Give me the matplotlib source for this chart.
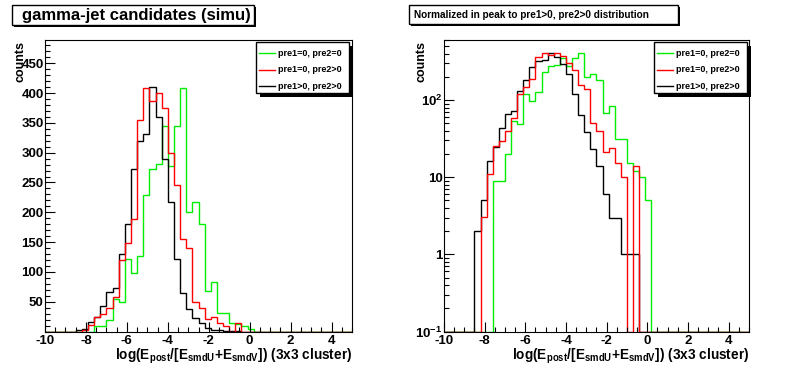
import numpy as np
import matplotlib
matplotlib.use("Agg")
import matplotlib.pyplot as plt
from matplotlib.patches import Rectangle
from matplotlib.lines import Line2D
from matplotlib.ticker import MultipleLocator, FixedLocator, FixedFormatter, LogLocator, NullFormatter

plt.rcParams['font.family'] = ['Liberation Sans', 'DejaVu Sans']
plt.rcParams['mathtext.fontset'] = 'custom'
plt.rcParams['mathtext.rm'] = 'Liberation Sans:bold'
plt.rcParams['mathtext.bf'] = 'Liberation Sans:bold'
plt.rcParams['mathtext.default'] = 'rm'
plt.rcParams['axes.unicode_minus'] = False

# 50 bins from -10 to 5
edges = np.linspace(-10, 5, 51)

# pre1>0, pre2>0
black = [0, 0, 0, 0, 0, 2, 5, 16, 25, 43,
         66, 73, 130, 180, 272, 320, 332, 410, 360, 290,
         218, 121, 64, 38, 23, 14, 6, 3, 3, 1,
         1, 1, 0, 0, 0, 0, 0, 0, 0, 0,
         0, 0, 0, 0, 0, 0, 0, 0, 0, 0]
# pre1=0, pre2>0
red = [0, 0, 0, 0, 0, 0, 3, 11, 25, 29,
       40, 58, 120, 148, 188, 355, 408, 386, 400, 375,
       300, 245, 155, 140, 50, 39, 21, 24, 15, 10,
       0, 14, 0, 0, 0, 0, 0, 0, 0, 0,
       0, 0, 0, 0, 0, 0, 0, 0, 0, 0]
# pre1=0, pre2=0
green = [0, 0, 0, 0, 0, 0, 0, 0, 9, 9,
         20, 54, 49, 121, 98, 126, 229, 272, 281, 345,
         278, 345, 408, 200, 218, 180, 68, 83, 31, 31,
         15, 12, 10, 5, 0, 0, 0, 0, 0, 0,
         0, 0, 0, 0, 0, 0, 0, 0, 0, 0]

labels = ['pre1=0, pre2=0', 'pre1=0, pre2>0', 'pre1>0, pre2>0']
colors = ['#00ee00', '#ff0000', '#000000']

W, H = 796, 372
fig = plt.figure(figsize=(W / 100, H / 100), dpi=100)


def fx(px):
    return px / W


def fy(py):
    return 1 - py / H


def box(x0, y0, x1, y1, shadow):
    fig.patches.append(Rectangle((fx(x0 + shadow), fy(y1 + shadow)), fx(x1 - x0), (y1 - y0) / H,
                                 transform=fig.transFigure, facecolor='black', edgecolor='black', lw=0))
    fig.patches.append(Rectangle((fx(x0), fy(y1)), fx(x1 - x0), (y1 - y0) / H,
                                 transform=fig.transFigure, facecolor='white', edgecolor='black', lw=1.0))


def legend(x0, y0, x1, y1):
    box(x0, y0, x1, y1, 4)
    for i, (lab, c) in enumerate(zip(labels, colors)):
        yy = y0 + 11 + i * 16.7
        fig.lines.append(Line2D([fx(x0 + 3), fx(x0 + 19)], [fy(yy), fy(yy)], color=c, lw=1.0,
                                transform=fig.transFigure))
        fig.text(fx(x0 + 22), fy(yy), lab, fontsize=6.5, fontweight='bold', va='center', ha='left')


def style(ax):
    ax.set_xlim(-10, 5)
    ax.xaxis.set_major_locator(MultipleLocator(2))
    ax.xaxis.set_minor_locator(MultipleLocator(0.5))
    ax.tick_params(which='both', direction='in', top=False, right=False, labelsize=9.5, width=0.8)
    ax.tick_params(which='major', length=7)
    ax.tick_params(which='minor', length=3.5)
    ax.tick_params(axis='x', pad=2.5)
    ax.tick_params(axis='y', pad=1)
    for t in ax.get_xticklabels() + ax.get_yticklabels():
        t.set_fontweight('bold')
    for s in ax.spines.values():
        s.set_linewidth(0.8)
    ax.set_xlabel(r'log(E$_{\rm post}$/[E$_{\rm smdU}$+E$_{\rm smdV}$]) (3x3 cluster)',
                  fontsize=9.8, fontweight='bold', loc='right', labelpad=0)


# left: linear
ax1 = fig.add_axes([fx(45), fy(331.5), (352 - 45) / W, (331.5 - 40) / H])
for vals, c in zip([green, black, red], [colors[0], colors[2], colors[1]]):
    ax1.stairs(vals, edges, color=c, lw=1.0, baseline=None)
ax1.set_ylim(0, 489)
ax1.yaxis.set_major_locator(FixedLocator([50, 100, 150, 200, 250, 300, 350, 400, 450]))
ax1.yaxis.set_minor_locator(MultipleLocator(10))
style(ax1)

# right: log, normalised to black peak
ax2 = fig.add_axes([fx(444), fy(331.5), (749 - 444) / W, (331.5 - 40) / H])
bmax = max(black)
for vals, c in zip([green, black, red], [colors[0], colors[2], colors[1]]):
    v = np.array(vals, dtype=float) * bmax / max(vals)
    v[v <= 0] = 0.1
    ax2.stairs(v, edges, color=c, lw=1.0, baseline=None)
ax2.set_yscale('log')
ax2.set_ylim(0.1, 601)
ax2.yaxis.set_major_locator(FixedLocator([0.1, 1, 10, 100]))
ax2.yaxis.set_major_formatter(FixedFormatter([r'$10^{-1}$', '1', '10', r'$10^{2}$']))
ax2.yaxis.set_minor_locator(LogLocator(base=10, subs=np.arange(2, 10)))
ax2.yaxis.set_minor_formatter(NullFormatter())
style(ax2)

fig.text(fx(21), fy(41), 'counts', rotation=90, ha='center', va='top', fontsize=9, fontweight='bold')
fig.text(fx(421), fy(41), 'counts', rotation=90, ha='center', va='top', fontsize=9, fontweight='bold')

# titles
box(12, 5, 254, 25, 2)
fig.text(fx(22), fy(15.5), 'gamma-jet candidates (simu)', fontsize=12, fontweight='bold',
         ha='left', va='center')
box(409, 5, 678, 24, 2)
fig.text(fx(414), fy(15), 'Normalized in peak to pre1>0, pre2>0 distribution', fontsize=7.2,
         fontweight='bold', ha='left', va='center')

legend(256, 42, 349, 93)
legend(654, 42, 747, 93)

fig.savefig('out.png', dpi=100)
